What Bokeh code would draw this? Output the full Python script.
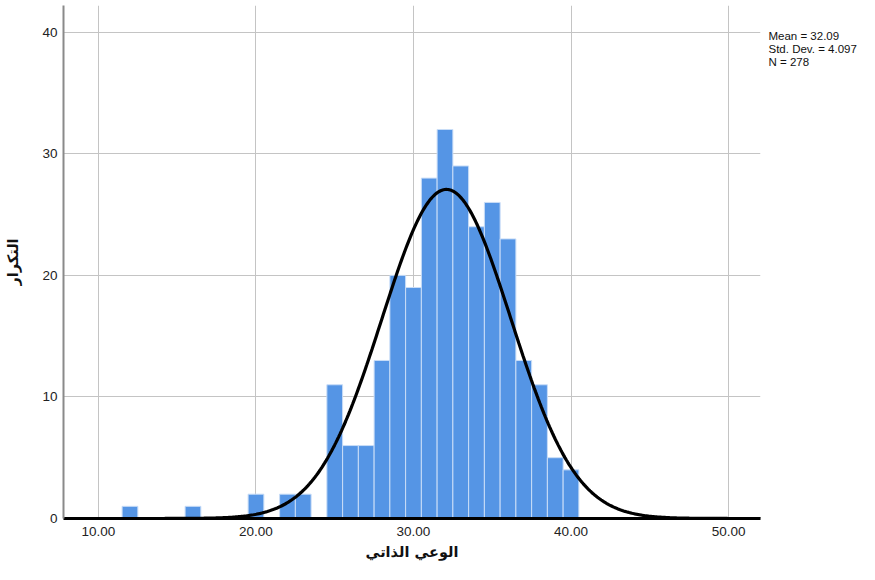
import numpy as np
from bokeh.plotting import figure
from bokeh.models import FixedTicker, NumeralTickFormatter, LinearAxis, ColumnDataSource
from bokeh.embed import file_html
from bokeh.resources import INLINE

# ---- data ----
bin_centers = [12, 16, 20, 22, 23, 25, 26, 27, 28, 29, 30, 31, 32, 33, 34, 35, 36, 37, 38, 39, 40]
counts      = [1, 1, 2, 2, 2, 11, 6, 6, 13, 20, 19, 28, 32, 29, 24, 26, 23, 13, 11, 5, 4]
bin_width = 1.0
mean_val = 32.09
sd_val = 4.097
n_val = 278
x_ticks = [10, 20, 30, 40, 50]
y_ticks = [0, 10, 20, 30, 40]
x_label = "الوعي الذاتي"
y_label = "التكرار"
stats_lines = ["Mean = 32.09", "Std. Dev. = 4.097", "N = 278"]

X_MIN, X_MAX = 7.78, 52.03
Y_MIN, Y_MAX = 0, 42.2

p = figure(width=859, height=564, output_backend="svg", toolbar_location=None,
           x_range=(X_MIN, X_MAX), y_range=(Y_MIN, Y_MAX),
           min_border_left=63, min_border_right=98, min_border_top=5, min_border_bottom=46)
p.outline_line_color = None
p.background_fill_color = "white"

src = ColumnDataSource(dict(x=bin_centers, top=counts))
p.vbar(x="x", top="top", width=bin_width, bottom=0, source=src,
       fill_color="#5595E5", line_color="#C9DDF7", line_width=1)

xs = np.linspace(X_MIN, X_MAX, 500)
ys = n_val * bin_width * np.exp(-0.5 * ((xs - mean_val) / sd_val) ** 2) / (sd_val * np.sqrt(2 * np.pi))
p.line(xs, ys, line_color="black", line_width=3.2)

# axes
p.xaxis.ticker = FixedTicker(ticks=x_ticks)
p.xaxis.formatter = NumeralTickFormatter(format="0.00")
p.yaxis.ticker = FixedTicker(ticks=y_ticks)
for ax in (p.xaxis, p.yaxis):
    ax.major_tick_line_color = None
    ax.minor_tick_line_color = None
    ax.major_tick_out = 0
    ax.major_tick_in = 0
    ax.major_label_text_font = "Liberation Sans"
    ax.major_label_text_font_size = "13.5px"
    ax.major_label_text_color = "#222222"
    ax.axis_label_text_font = "DejaVu Sans"
    ax.axis_label_text_font_style = "bold"
    ax.axis_label_text_font_size = "14.5px"
    ax.axis_label_text_color = "#111111"

p.xaxis.axis_line_color = "black"
p.xaxis.axis_line_width = 3
p.xaxis.major_label_standoff = 8
p.xaxis.axis_label = x_label
p.xaxis.axis_label_standoff = 5

p.yaxis.axis_line_color = "#8a8a8a"
p.yaxis.axis_line_width = 2
p.yaxis.major_label_standoff = 6
p.yaxis.axis_label = y_label
p.yaxis.axis_label_standoff = 18

p.xgrid.grid_line_color = "#c4c4c4"
p.ygrid.grid_line_color = "#c4c4c4"
p.xgrid.ticker = FixedTicker(ticks=x_ticks)
p.ygrid.ticker = FixedTicker(ticks=[10, 20, 30, 40])

# stats text, shown as labels of a bare axis on the right
stat_pos = [39.65, 38.6, 37.55]
stats_axis = LinearAxis(ticker=FixedTicker(ticks=stat_pos),
                        major_label_overrides={v: t for v, t in zip(stat_pos, stats_lines)})
stats_axis.axis_line_color = None
stats_axis.major_tick_line_color = None
stats_axis.minor_tick_line_color = None
stats_axis.major_tick_out = 0
stats_axis.major_tick_in = 0
stats_axis.major_label_standoff = 8
stats_axis.major_label_text_font = "Liberation Sans"
stats_axis.major_label_text_font_size = "11.5px"
stats_axis.major_label_text_color = "#111111"
p.add_layout(stats_axis, "right")

open("out.html", "w").write(file_html(p, INLINE))
